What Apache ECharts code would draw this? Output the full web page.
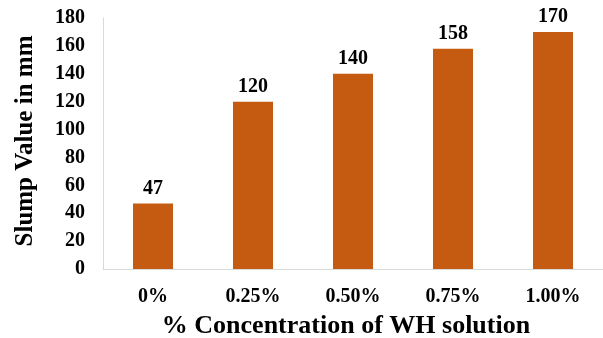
<!DOCTYPE html>
<html>
<head>
<meta charset="utf-8">
<script src="https://cdn.jsdelivr.net/npm/echarts@6/dist/echarts.min.js"></script>
<style>
  html, body { margin: 0; padding: 0; background: #fff; }
  #chart { width: 603px; height: 338px; }
</style>
</head>
<body>
<div id="chart"></div>
<script>
// Slump values for each WH solution concentration
const categories = ['0%', '0.25%', '0.50%', '0.75%', '1.00%'];
const slumpValues = [47, 120, 140, 158, 170];
const yTicks = { min: 0, max: 180, interval: 20 };

const serif = '"Liberation Serif", "Times New Roman", serif';
const chart = echarts.init(document.getElementById('chart'));

chart.setOption({
  animation: false,
  grid: { left: 103, right: 0, top: 18, bottom: 69, containLabel: false, outerBoundsMode: 'none' },
  xAxis: {
    type: 'category',
    data: categories,
    name: '% Concentration of WH solution',
    nameLocation: 'middle',
    nameGap: 44,
    nameTextStyle: {
      fontFamily: serif, fontWeight: 'bold', fontSize: 26, color: '#000',
      padding: [0, 14, 0, 0]
    },
    axisLine: { show: true, lineStyle: { color: '#D9D9D9', width: 1 } },
    axisTick: { show: false },
    axisLabel: {
      margin: 18, color: '#000',
      fontFamily: serif, fontWeight: 'bold', fontSize: 20
    }
  },
  yAxis: {
    type: 'value',
    min: yTicks.min, max: yTicks.max, interval: yTicks.interval,
    name: 'Slump Value in mm',
    nameLocation: 'middle',
    nameRotate: 90,
    nameGap: 65,
    nameTextStyle: {
      fontFamily: serif, fontWeight: 'bold', fontSize: 25, color: '#000',
      padding: [0, 0, 0, 5]
    },
    axisLine: { show: true, lineStyle: { color: '#D9D9D9', width: 1 } },
    axisTick: { show: false },
    splitLine: { show: false },
    axisLabel: {
      margin: 18, color: '#000',
      fontFamily: serif, fontWeight: 'bold', fontSize: 20
    }
  },
  series: [{
    type: 'bar',
    data: slumpValues,
    barWidth: '40%',
    itemStyle: { color: '#C55A11' },
    label: {
      show: true, position: 'top', distance: 5, color: '#000',
      fontFamily: serif, fontWeight: 'bold', fontSize: 20
    }
  }]
});
</script>
</body>
</html>
